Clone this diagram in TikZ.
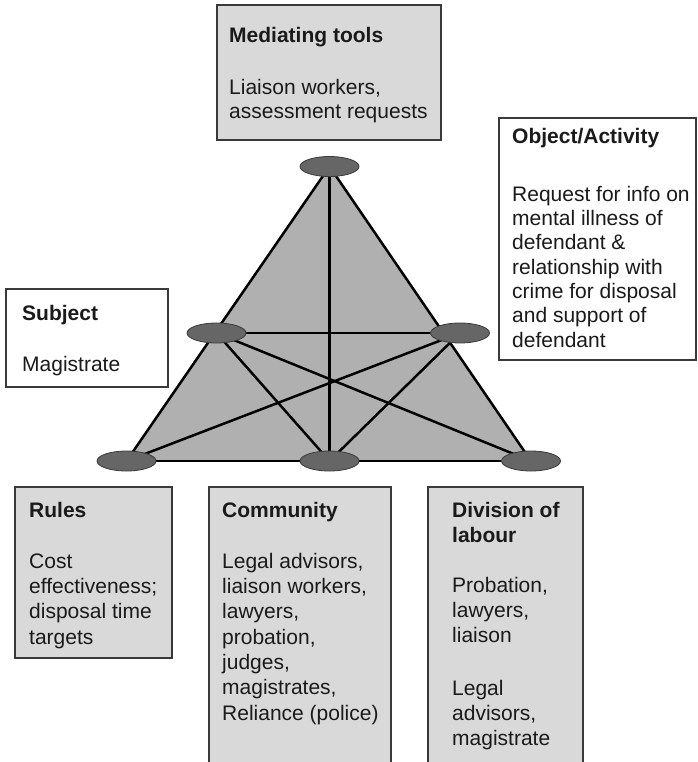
\documentclass[tikz,border=0pt]{standalone}
\usepackage{fontspec}
\setmainfont{Liberation Sans}
\usetikzlibrary{shapes.geometric}

\definecolor{boxgray}{HTML}{D9D9D9}
\definecolor{trigray}{HTML}{B0B0B0}
\definecolor{dotgray}{HTML}{666666}
\definecolor{edgegray}{HTML}{3A3A3A}
\definecolor{inkgray}{HTML}{1A1A1A}

\pgfdeclarelayer{back}
\pgfdeclarelayer{links}
\pgfsetlayers{back,links,main}

\begin{document}
\begin{tikzpicture}[x=1pt,y=-1pt,
  panel/.style={draw=edgegray, line width=1.2pt, anchor=north west,
                inner sep=0pt, outer sep=0pt},
  graybox/.style={panel, fill=boxgray},
  whitebox/.style={panel, fill=white},
  boxtext/.style={anchor=north west, inner sep=0pt, align=left, text=inkgray,
                  font=\fontsize{21}{#1}\selectfont},
  dot/.style={ellipse, draw=edgegray, line width=0.8pt, fill=dotgray,
              minimum width=59pt, minimum height=20pt, inner sep=0pt},
  link/.style={line width=2.5pt, draw=black},
]
\useasboundingbox (0,0) rectangle (697,762);
\begin{pgfonlayer}{back}
  \fill[white] (0,0) rectangle (697,762);
\end{pgfonlayer}

% --- text panels ---
\node[graybox,  minimum width=224pt, minimum height=135pt] (medbox)   at (217,5)   {};
\node[whitebox, minimum width=197pt, minimum height=242pt] (objbox)   at (499,118) {};
\node[whitebox, minimum width=162pt, minimum height=98pt]  (subjbox)  at (6,289)   {};
\node[graybox,  minimum width=157pt, minimum height=171pt] (rulesbox) at (15,487)  {};
\node[graybox,  minimum width=182pt, minimum height=290pt] (commbox)  at (209,487) {};
\node[graybox,  minimum width=155pt, minimum height=290pt] (divbox)   at (428,487) {};

\node[boxtext=24] (medtext) at (229,25)
  {\rule{0pt}{17pt}\textbf{Mediating tools}\\[28pt]
   Liaison workers,\\assessment requests};
\node[boxtext=24.3] (objtext) at (512,126)
  {\rule{0pt}{17pt}\textbf{Object/Activity}\\[33.7pt]
   Request for info on\\mental illness of\\defendant \&\\relationship with\\
   crime for disposal\\and support of\\defendant};
\node[boxtext=25.3] (subjtext) at (22,303)
  {\rule{0pt}{17pt}\textbf{Subject}\\[25.7pt]Magistrate};
\node[boxtext=25.3] (rulestext) at (29,500)
  {\rule{0pt}{17pt}\textbf{Rules}\\[25.7pt]
   Cost\\effectiveness;\\disposal time\\targets};
\node[boxtext=25.3] (commtext) at (222,500)
  {\rule{0pt}{17pt}\textbf{Community}\\[25.7pt]
   Legal advisors,\\liaison workers,\\lawyers,\\probation,\\judges,\\
   magistrates,\\Reliance (police)};
\node[boxtext=25.3] (divtext) at (452,500)
  {\rule{0pt}{17pt}\textbf{Division of}\\\textbf{labour}\\[24.4pt]
   Probation,\\lawyers,\\liaison\\[27pt]
   Legal\\advisors,\\magistrate};

% --- activity triangle ---
\node[dot] (top) at (329.5,166.5) {};
\node[dot] (ml)  at (216.5,333)   {};
\node[dot] (mr)  at (460,333)     {};
\node[dot] (bl)  at (126.5,461)   {};
\node[dot] (bm)  at (329.5,461)   {};
\node[dot] (br)  at (531,461)     {};

\begin{pgfonlayer}{back}
  \fill[trigray] (top.center) -- (bl.center) -- (br.center) -- cycle;
\end{pgfonlayer}

\begin{pgfonlayer}{links}
  \draw[link] (top.center) -- (bl.center);
  \draw[link] (top.center) -- (br.center);
  \draw[link] (bl.center) -- (br.center);
  \draw[link] (top.center) -- (bm.center);
  \draw[link] (ml.center) -- (mr.center);
  \draw[link] (ml.center) -- (br.center);
  \draw[link] (mr.center) -- (bl.center);
  \draw[link] (ml.center) -- (bm.center);
  \draw[link] (mr.center) -- (bm.center);
\end{pgfonlayer}
\end{tikzpicture}
\end{document}
